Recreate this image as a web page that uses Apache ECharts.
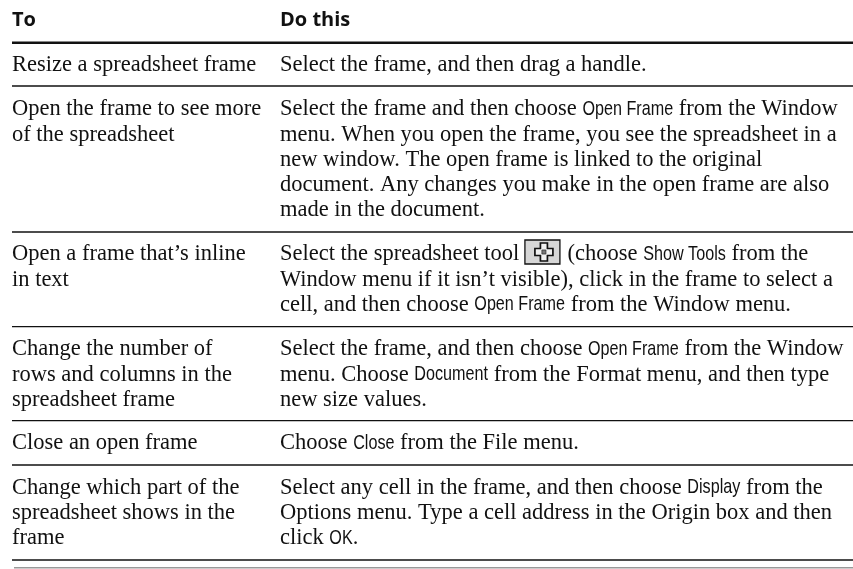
<!DOCTYPE html>
<html><head><meta charset="utf-8">
<style>html,body{margin:0;padding:0;background:#fff}#c{width:853px;height:569px}</style>
<script src="https://cdn.jsdelivr.net/npm/echarts@6/dist/echarts.min.js"></script>
</head><body><div id="c"></div>
<script>
const headers = ["To", "Do this"];
// {..} marks an interface term set in the narrow sans face; [icon] marks the tool button
const toColumn = [
  ["Resize a spreadsheet frame"],
  ["Open the frame to see more", "of the spreadsheet"],
  ["Open a frame that’s inline", "in text"],
  ["Change the number of", "rows and columns in the", "spreadsheet frame"],
  ["Close an open frame"],
  ["Change which part of the", "spreadsheet shows in the", "frame"]
];
const doColumn = [
  ["Select the frame, and then drag a handle."],
  ["Select the frame and then choose {Open Frame} from the Window",
   "menu. When you open the frame, you see the spreadsheet in a",
   "new window. The open frame is linked to the original",
   "document. Any changes you make in the open frame are also",
   "made in the document."],
  ["Select the spreadsheet tool [icon] (choose {Show Tools} from the",
   "Window menu if it isn’t visible), click in the frame to select a",
   "cell, and then choose {Open Frame} from the Window menu."],
  ["Select the frame, and then choose {Open Frame} from the Window",
   "menu. Choose {Document} from the Format menu, and then type",
   "new size values."],
  ["Choose {Close} from the File menu."],
  ["Select any cell in the frame, and then choose {Display} from the",
   "Options menu. Type a cell address in the Origin box and then",
   "click {OK}."]
];
const rowFirstBaseline = [70, 114, 259, 354, 448, 492.5];
const ruleY = [42.7, 86, 232, 326.7, 420.7, 465, 560];
const LEAD = 25.2, X1 = 12, X2 = 280;
const SERIF = '22.5px "Liberation Serif"', NARROW = '21px "Liberation Sans"', HEAD = '700 20px "Open Sans"';
const NARROW_SCALE = 0.77;
const SERIF_UP = 4.6, NARROW_UP = 5.0, HEAD_UP = 5.8;

const items = [];
headers.forEach((h, i) => items.push({value: [i ? X2 : X1, 26], text: h, kind: 'head'}));
doColumn.forEach((lines, r) => {
  toColumn[r].forEach((t, i) => items.push({value: [X1, rowFirstBaseline[r] + i * LEAD], text: t, kind: 'line'}));
  lines.forEach((t, i) => items.push({value: [X2, rowFirstBaseline[r] + i * LEAD], text: t, kind: 'line'}));
});
const ctx = document.createElement('canvas').getContext('2d');
function width(t, f) { ctx.font = f; return ctx.measureText(t).width; }
function txt(t, x, y, font, up, scale) {
  return {type: 'text', x, y: y - up, scaleX: scale || 1,
    style: {text: t, x: 0, y: 0, font, fill: '#111', verticalAlign: 'middle', align: 'left'}};
}
function renderLine(params, api) {
  const it = items[params.dataIndex];
  const p = api.coord([api.value(0), api.value(1)]);
  const kids = [];
  if (it.kind === 'head') {
    kids.push(txt(it.text, p[0], p[1], HEAD, HEAD_UP));
  } else {
    let x = p[0];
    it.text.split(/(\{[^}]*\}|\[icon\])/).filter(Boolean).forEach(run => {
      if (run === '[icon]') {
        const bx = x, by = p[1] - 19;
        kids.push({type: 'rect', shape: {x: bx, y: by, width: 35, height: 24}, style: {fill: '#d6d6d6', stroke: '#111', lineWidth: 1.3}});
        const cx = bx + 19, cy = by + 12, a = 9, b = 3.5;
        kids.push({type: 'polygon', shape: {points: [[cx-b,cy-a],[cx+b,cy-a],[cx+b,cy-b],[cx+a,cy-b],[cx+a,cy+b],[cx+b,cy+b],[cx+b,cy+a],[cx-b,cy+a],[cx-b,cy+b],[cx-a,cy+b],[cx-a,cy-b],[cx-b,cy-b]]}, style: {fill: '#f0f0f0', stroke: '#111', lineWidth: 1.7}});
        kids.push({type: 'rect', shape: {x: cx-2, y: cy-2, width: 4, height: 4}, style: {fill: '#777', stroke: '#333', lineWidth: 0.8}});
        x += 37;
      } else if (run[0] === '{') {
        const t = run.slice(1, -1);
        kids.push(txt(t, x, p[1], NARROW, NARROW_UP, NARROW_SCALE));
        x += width(t, NARROW) * NARROW_SCALE;
      } else {
        kids.push(txt(run, x, p[1], SERIF, SERIF_UP));
        x += width(run, SERIF);
      }
    });
  }
  return {type: 'group', children: kids};
}
function renderRule(params, api) {
  const y = api.coord([0, api.value(0)])[1];
  const i = params.dataIndex;
  return {type: 'line', shape: {x1: 12, y1: y, x2: 853, y2: y},
    style: {stroke: '#111', lineWidth: i === 0 ? 2.6 : 1.3}};
}
const chart = echarts.init(document.getElementById('c'), null, {renderer: 'canvas'});
chart.setOption({
  animation: false,
  backgroundColor: '#fff',
  grid: {left: 0, right: 0, top: 0, bottom: 0},
  xAxis: {type: 'value', min: 0, max: 853, show: false},
  yAxis: {type: 'value', min: 0, max: 569, inverse: true, show: false},
  series: [
    {type: 'custom', silent: true, clip: false, encode: {x: 0, y: 1}, data: items, renderItem: renderLine},
    {type: 'custom', silent: true, clip: false, encode: {y: 0}, data: ruleY.map(y => [y]), renderItem: renderRule},
    {type: 'custom', silent: true, clip: false, encode: {y: 0}, data: [[567.7]], renderItem: (p, api) => {
      const y = api.coord([0, api.value(0)])[1];
      return {type: 'line', shape: {x1: 14, y1: y, x2: 853, y2: y}, style: {stroke: '#999', lineWidth: 1.6}};
    }}
  ]
});
</script></body></html>
